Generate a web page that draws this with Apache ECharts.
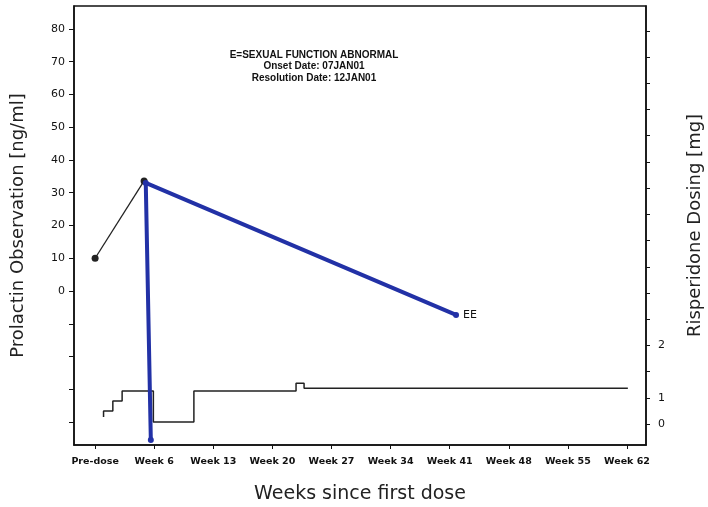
<!DOCTYPE html>
<html>
<head>
<meta charset="utf-8">
<script src="https://cdn.jsdelivr.net/npm/echarts@6/dist/echarts.min.js"></script>
<style>html,body{margin:0;padding:0;background:#fff}#c{width:708px;height:507px}</style>
</head>
<body>
<div id="c"></div>
<script>
// x positions are weeks since first dose (Pre-dose = -1)
var xTickWeeks = [-1, 6, 13, 20, 27, 34, 41, 48, 55, 62];
var xTickLabels = ['Pre-dose', 'Week 6', 'Week 13', 'Week 20', 'Week 27', 'Week 34', 'Week 41', 'Week 48', 'Week 55', 'Week 62'];

var leftTicks = [-40, -30, -20, -10, 0, 10, 20, 30, 40, 50, 60, 70, 80];
var leftLabels = [0, 10, 20, 30, 40, 50, 60, 70, 80];

// right axis ticks (axis units) and the printed labels at those ticks
var rightTicks = [0, 1, 2, 3, 4, 5, 6, 7, 8, 9, 10, 11, 12, 13, 14, 15];
var rightLabelPos = [0, 1, 3];
var rightLabelText = ['0', '1', '2'];

// prolactin observations
var prolWeeks = [-1, 4.8];
var prolValues = [10, 33.6];

// adverse event trace (blue)
var aeWeeks = [5.6, 5.0, 41.75];
var aeValues = [-45.5, 33, -7.3];

// risperidone dosing step trace (right axis units)
var doseWeeks = [0, 0, 1.1, 2.2, 5.9, 10.7, 22.8, 23.75, 62.1];
var doseValues = [0.27, 0.5, 0.88, 1.26, 0.08, 1.26, 1.56, 1.37, 1.37];

var annotationLines = ['E=SEXUAL FUNCTION ABNORMAL', 'Onset Date: 07JAN01', 'Resolution Date: 12JAN01'];

function zip(a, b) { return a.map(function (v, i) { return [v, b[i]]; }); }

var aeData = zip(aeWeeks, aeValues).map(function (p, i) {
  if (i === aeWeeks.length - 1) {
    return { value: p, label: { show: true, formatter: 'EE', position: 'right', distance: 4, color: '#111', fontSize: 11, fontFamily: 'DejaVu Sans' } };
  }
  return p;
});

var chart = echarts.init(document.getElementById('c'), null, { renderer: 'canvas' });
chart.setOption({
  animation: false,
  backgroundColor: '#fff',
  grid: { left: 74, right: 62, top: 6, bottom: 62, outerBoundsMode: 'none', containLabel: false, show: true, borderColor: '#111', borderWidth: 1.5, backgroundColor: 'transparent' },
  graphic: [{
    type: 'text', x: 314, y: 49,
    style: {
      text: annotationLines.join('\n'), fill: '#111', font: 'bold 10px "Liberation Sans"',
      align: 'center', verticalAlign: 'top', lineHeight: 11.5
    }
  }],
  xAxis: {
    type: 'value', min: -3.5, max: 64.25,
    name: 'Weeks since first dose', nameLocation: 'middle', nameGap: 40,
    nameTextStyle: { fontSize: 19, fontFamily: 'DejaVu Sans', color: '#222' },
    splitLine: { show: false },
    axisLine: { show: true, onZero: false, lineStyle: { color: '#111', width: 1.5 } },
    axisTick: { show: true, length: 4, customValues: xTickWeeks, lineStyle: { color: '#111' } },
    axisLabel: {
      customValues: xTickWeeks, margin: 12, fontSize: 9.5, fontWeight: 'bold', fontFamily: 'DejaVu Sans', color: '#111',
      formatter: function (v) { var i = xTickWeeks.indexOf(v); return i >= 0 ? xTickLabels[i] : ''; }
    }
  },
  yAxis: [{
    type: 'value', min: -47, max: 87, position: 'left',
    name: 'Prolactin Observation [ng/ml]', nameLocation: 'middle', nameGap: 47,
    nameTextStyle: { fontSize: 18, fontFamily: 'DejaVu Sans', color: '#222' },
    splitLine: { show: false },
    axisLine: { show: true, onZero: false, lineStyle: { color: '#111', width: 1.5 } },
    axisTick: { show: true, length: 5, customValues: leftTicks, lineStyle: { color: '#111' } },
    axisLabel: { customValues: leftLabels, margin: 9, fontSize: 11, fontFamily: 'DejaVu Sans', color: '#111' }
  }, {
    type: 'value', min: -0.8, max: 15.95, position: 'right',
    name: 'Risperidone Dosing [mg]', nameLocation: 'middle', nameGap: 40, nameRotate: 90,
    nameTextStyle: { fontSize: 18, fontFamily: 'DejaVu Sans', color: '#222' },
    splitLine: { show: false },
    axisLine: { show: true, onZero: false, lineStyle: { color: '#111', width: 1.5 } },
    axisTick: { show: true, length: 4, customValues: rightTicks, lineStyle: { color: '#111' } },
    axisLabel: {
      customValues: rightLabelPos, margin: 12, fontSize: 11, fontFamily: 'DejaVu Sans', color: '#111',
      formatter: function (v) { var i = rightLabelPos.indexOf(v); return i >= 0 ? rightLabelText[i] : ''; }
    }
  }],
  series: [{
    name: 'Dosing', type: 'line', yAxisIndex: 1, step: 'end', symbol: 'none',
    lineStyle: { color: '#222', width: 1.5 },
    data: zip(doseWeeks, doseValues)
  }, {
    name: 'Prolactin', type: 'line', yAxisIndex: 0, symbol: 'circle', symbolSize: 7,
    itemStyle: { color: '#222' }, lineStyle: { color: '#222', width: 1.3 },
    data: zip(prolWeeks, prolValues)
  }, {
    name: 'Adverse event', type: 'line', yAxisIndex: 0, symbol: 'circle', symbolSize: 6,
    itemStyle: { color: '#2231a6' }, lineStyle: { color: '#2231a6', width: 4 },
    data: aeData
  }]
});
</script>
</body>
</html>
